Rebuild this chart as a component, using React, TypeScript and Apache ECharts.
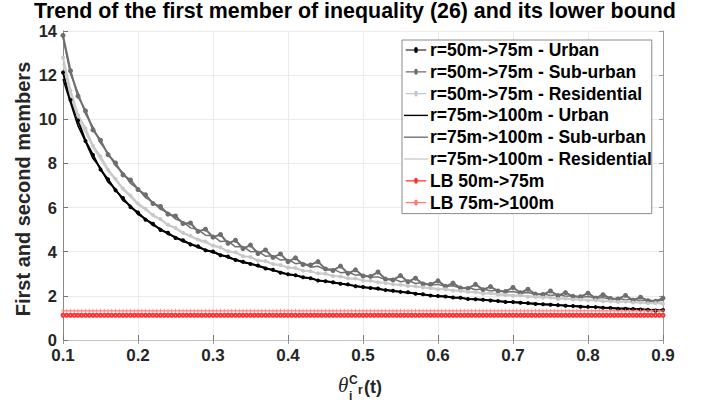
import React, { useEffect, useRef } from "react";
import * as echarts from "echarts";

const FONT = '"Liberation Sans", Arial, Helvetica, sans-serif';

// Normalised threshold θ sampled from 0.1 to 0.9
const thetaGrid: number[] = Array.from({ length: 81 }, (_, i) => +(0.1 + i * 0.01).toFixed(2));
const lbGrid: number[] = Array.from({ length: 161 }, (_, i) => +(0.1 + i * 0.005).toFixed(3));

const seriesNames = [
  "r=50m->75m - Urban",
  "r=50m->75m - Sub-urban",
  "r=50m->75m - Residential",
  "r=75m->100m - Urban",
  "r=75m->100m - Sub-urban",
  "r=75m->100m - Residential",
  "LB 50m->75m",
  "LB 75m->100m",
];

const urban50to75 = [
  12.12, 10.88, 9.95, 9.02, 8.38, 7.72, 7.28, 6.78, 6.43, 6.02,
  5.78, 5.45, 5.27, 4.98, 4.86, 4.62, 4.52, 4.33, 4.25, 4.06,
  4.01, 3.84, 3.78, 3.62, 3.55, 3.44, 3.38, 3.24, 3.18, 3.05,
  2.98, 2.93, 2.84, 2.80, 2.70, 2.66, 2.62, 2.55, 2.52, 2.44,
  2.40, 2.36, 2.33, 2.26, 2.23, 2.18, 2.16, 2.10, 2.07, 2.01,
  1.99, 1.97, 1.93, 1.91, 1.86, 1.85, 1.82, 1.79, 1.77, 1.72,
  1.72, 1.69, 1.67, 1.63, 1.62, 1.60, 1.58, 1.55, 1.54, 1.51,
  1.50, 1.49, 1.46, 1.45, 1.42, 1.42, 1.40, 1.38, 1.37, 1.33,
  1.36,
];

const suburban50to75 = [
  13.80, 12.20, 11.05, 10.38, 9.52, 9.05, 8.40, 8.02, 7.48, 7.25,
  6.82, 6.58, 6.18, 6.05, 5.70, 5.62, 5.28, 5.30, 4.92, 5.02,
  4.66, 4.78, 4.38, 4.52, 4.14, 4.30, 3.92, 4.08, 3.74, 3.90,
  3.55, 3.72, 3.42, 3.40, 3.55, 3.22, 3.15, 3.35, 3.02, 3.18,
  2.90, 2.88, 3.08, 2.76, 2.72, 2.92, 2.64, 2.80, 2.54, 2.52,
  2.68, 2.43, 2.58, 2.36, 2.34, 2.52, 2.28, 2.42, 2.22, 2.20,
  2.38, 2.14, 2.30, 2.08, 2.06, 2.22, 2.01, 2.15, 1.98, 1.96,
  2.12, 1.90, 2.05, 1.88, 1.86, 2.02, 1.80, 1.94, 1.78, 1.76,
  1.90,
];

const residential50to75 = [
  12.80, 11.30, 10.20, 9.58, 8.80, 8.32, 7.72, 7.30, 6.86, 6.55,
  6.18, 5.95, 5.66, 5.48, 5.22, 5.08, 4.86, 4.72, 4.55, 4.46,
  4.28, 4.20, 4.02, 3.98, 3.80, 3.76, 3.60, 3.58, 3.44, 3.40,
  3.28, 3.26, 3.14, 3.12, 3.02, 3.00, 2.90, 2.88, 2.80, 2.78,
  2.70, 2.68, 2.62, 2.58, 2.52, 2.50, 2.45, 2.44, 2.38, 2.35,
  2.30, 2.30, 2.24, 2.22, 2.18, 2.17, 2.10, 2.12, 2.05, 2.04,
  2.00, 2.02, 1.96, 1.95, 1.92, 1.92, 1.86, 1.88, 1.83, 1.82,
  1.80, 1.80, 1.76, 1.76, 1.72, 1.74, 1.70, 1.70, 1.66, 1.68,
  1.64,
];

const urban75to100 = [
  11.82, 10.75, 9.70, 8.98, 8.22, 7.80, 7.15, 6.85, 6.32, 6.10,
  5.68, 5.50, 5.18, 5.05, 4.78, 4.68, 4.45, 4.38, 4.18, 4.10,
  3.95, 3.88, 3.72, 3.66, 3.50, 3.47, 3.33, 3.28, 3.14, 3.09,
  2.96, 2.95, 2.82, 2.81, 2.69, 2.68, 2.58, 2.57, 2.48, 2.46,
  2.38, 2.37, 2.29, 2.28, 2.20, 2.20, 2.12, 2.12, 2.05, 2.04,
  1.97, 1.98, 1.91, 1.92, 1.85, 1.86, 1.80, 1.81, 1.75, 1.75,
  1.70, 1.71, 1.65, 1.66, 1.61, 1.62, 1.57, 1.58, 1.53, 1.54,
  1.49, 1.50, 1.46, 1.47, 1.43, 1.44, 1.40, 1.41, 1.37, 1.38,
  1.35,
];

const suburban75to100 = [
  13.70, 12.05, 11.20, 10.25, 9.65, 8.92, 8.48, 7.90, 7.58, 7.10,
  6.85, 6.45, 6.25, 5.92, 5.78, 5.48, 5.35, 5.08, 5.00, 4.75,
  4.72, 4.46, 4.48, 4.22, 4.24, 4.00, 4.02, 3.80, 3.82, 3.62,
  3.65, 3.46, 3.50, 3.30, 3.34, 3.18, 3.22, 3.05, 3.08, 2.94,
  2.96, 2.84, 2.86, 2.74, 2.78, 2.64, 2.70, 2.56, 2.60, 2.48,
  2.52, 2.42, 2.46, 2.36, 2.38, 2.28, 2.32, 2.22, 2.26, 2.17,
  2.20, 2.12, 2.15, 2.06, 2.10, 2.02, 2.06, 1.98, 2.00, 1.93,
  1.97, 1.89, 1.92, 1.85, 1.89, 1.82, 1.86, 1.78, 1.82, 1.76,
  1.80,
];

const residential75to100 = [
  12.50, 11.05, 10.05, 9.40, 8.72, 8.18, 7.65, 7.25, 6.80, 6.48,
  6.12, 5.90, 5.62, 5.45, 5.18, 5.05, 4.82, 4.70, 4.52, 4.42,
  4.25, 4.18, 4.00, 3.95, 3.78, 3.75, 3.58, 3.56, 3.42, 3.40,
  3.26, 3.25, 3.12, 3.12, 3.00, 3.00, 2.89, 2.88, 2.79, 2.78,
  2.69, 2.68, 2.61, 2.60, 2.52, 2.52, 2.45, 2.45, 2.38, 2.38,
  2.31, 2.31, 2.25, 2.25, 2.19, 2.19, 2.13, 2.14, 2.08, 2.08,
  2.03, 2.04, 1.98, 1.99, 1.94, 1.94, 1.90, 1.90, 1.86, 1.86,
  1.82, 1.83, 1.79, 1.79, 1.75, 1.76, 1.72, 1.73, 1.69, 1.70,
  1.66,
];

// Lower bounds (constant over θ)
const lowerBound50to75 = 1.12;
const lowerBound75to100 = 1.32;

const yTicks = [0, 14, 2];

const PLUS = "path://M4,0h2v4h4v2h-4v4h-2v-4h-4v-2h4z";
const LINE_ICON = "path://M0,0H24V1.4H0Z";
const DOT_LINE_ICON = "path://M0,2.3H24V3.7H0ZM10,1.5A1.5,1.5 0 1 1 14,1.5V4.5A1.5,1.5 0 1 1 10,4.5Z";

function curve(name: string, values: number[], color: string, width: number, symbolSize: number) {
  return {
    name,
    type: "line",
    data: thetaGrid.map((x, i) => [x, values[i]]),
    symbol: symbolSize > 0 ? "circle" : "none",
    symbolSize,
    showSymbol: symbolSize > 0,
    lineStyle: { color, width },
    itemStyle: { color },
    emphasis: { disabled: true },
  };
}

export default function App() {
  const ref = useRef<HTMLDivElement>(null);

  useEffect(() => {
    if (!ref.current) return;
    const chart = echarts.init(ref.current, undefined, { renderer: "svg" });

    const axisBase = {
      type: "value",
      axisLabel: { show: false },
      splitLine: { show: false },
      axisTick: { show: true, inside: true, length: 4, lineStyle: { color: "#9a9a9a" } },
    };

    chart.setOption({
      animation: false,
      backgroundColor: "#ffffff",
      textStyle: { fontFamily: FONT },
      title: {
        text: "Trend of the first member of inequality (26) and its lower bound",
        left: "center",
        top: 2,
        padding: 0,
        textStyle: { fontFamily: FONT, fontSize: 21.4, lineHeight: 17, fontWeight: "bold", color: "#000" },
      },
      grid: { left: 63, right: 47, top: 31, bottom: 73, containLabel: false },
      legend: {
        orient: "vertical",
        left: 402,
        top: 40,
        data: [
          { name: seriesNames[0], icon: DOT_LINE_ICON },
          { name: seriesNames[1], icon: DOT_LINE_ICON },
          { name: seriesNames[2], icon: DOT_LINE_ICON },
          { name: seriesNames[3], icon: LINE_ICON },
          { name: seriesNames[4], icon: LINE_ICON },
          { name: seriesNames[5], icon: LINE_ICON },
          { name: seriesNames[6], icon: DOT_LINE_ICON },
          { name: seriesNames[7], icon: DOT_LINE_ICON },
        ],
        backgroundColor: "#ffffff",
        borderColor: "#8a8a8a",
        borderWidth: 1,
        padding: [1, 0, 2, 2],
        itemWidth: 24,
        itemHeight: 6,
        itemGap: 3.8,
        textStyle: { fontFamily: FONT, fontSize: 17.5, fontWeight: "bold", color: "#000", padding: [0, 0, 0, -3] },
      },
      xAxis: [
        {
          type: "value",
          min: 0.1,
          max: 0.9,
          interval: 0.1,
          axisLine: { show: false },
          axisTick: { show: true, inside: true, length: 5, lineStyle: { color: "#777" } },
          splitLine: { show: true, lineStyle: { color: "#ebebeb", width: 1 } },
          axisLabel: {
            formatter: (v: number) => v.toFixed(1),
            fontFamily: FONT,
            fontSize: 17,
            lineHeight: 13,
            fontWeight: "bold",
            color: "#262626",
            margin: 9,
          },
        },
        {
          ...axisBase,
          position: "top",
          min: 0.1,
          max: 0.9,
          interval: 0.1,
          axisLine: { show: true, lineStyle: { color: "#c4c4c4", width: 1 } },
        },
      ],
      yAxis: [
        {
          type: "value",
          min: yTicks[0],
          max: yTicks[1],
          interval: yTicks[2],
          axisLine: { show: true, lineStyle: { color: "#8a8a8a", width: 1 } },
          axisTick: { show: true, inside: true, length: 5, lineStyle: { color: "#777" } },
          splitLine: { show: true, lineStyle: { color: "#ebebeb", width: 1 } },
          axisLabel: {
            fontFamily: FONT,
            fontSize: 16.5,
            lineHeight: 13,
            fontWeight: "bold",
            color: "#262626",
            margin: 6,
          },
        },
        {
          ...axisBase,
          position: "right",
          min: yTicks[0],
          max: yTicks[1],
          interval: yTicks[2],
          axisLine: { show: true, lineStyle: { color: "#9a9a9a", width: 1 } },
        },
      ],
      graphic: [
        {
          type: "text",
          x: 23,
          y: 189,
          rotation: Math.PI / 2,
          style: {
            text: "First and second members",
            font: `bold 20px ${FONT}`,
            fill: "#262626",
            textAlign: "center",
            textVerticalAlign: "middle",
          },
        },
        {
          type: "group",
          left: 338,
          top: 374,
          children: [
            { type: "text", x: 0, y: 2, style: { text: "θ", font: 'italic 21px "Liberation Serif", serif', fill: "#262626" } },
            { type: "text", x: 11, y: 2, style: { text: "C", font: `bold 12px ${FONT}`, fill: "#262626" } },
            { type: "text", x: 11, y: 18, style: { text: "i", font: `bold 12px ${FONT}`, fill: "#262626" } },
            { type: "text", x: 20, y: 12, style: { text: "r", font: `bold 12px ${FONT}`, fill: "#262626" } },
            { type: "text", x: 26, y: 6, style: { text: "(t)", font: `bold 18px ${FONT}`, fill: "#262626" } },
          ],
        },
      ],
      series: [
        curve(seriesNames[0], urban50to75, "#000000", 2, 4),
        curve(seriesNames[1], suburban50to75, "#6e6e6e", 2, 5),
        curve(seriesNames[2], residential50to75, "#c8c8c8", 2, 4),
        curve(seriesNames[3], urban75to100, "#000000", 1.5, 0),
        curve(seriesNames[4], suburban75to100, "#707070", 1.5, 0),
        curve(seriesNames[5], residential75to100, "#cdcdcd", 1.5, 0),
        {
          name: seriesNames[6],
          type: "line",
          data: lbGrid.map((x) => [x, lowerBound50to75]),
          symbol: "emptyCircle",
          symbolSize: 3,
          lineStyle: { color: "#ff3030", width: 1 },
          itemStyle: { color: "#ff3030", borderWidth: 0.7 },
          emphasis: { disabled: true },
        },
        {
          name: seriesNames[7],
          type: "line",
          data: lbGrid.map((x) => [x, lowerBound75to100]),
          symbol: PLUS,
          symbolSize: 4,
          lineStyle: { color: "#ff9a9a", width: 1 },
          itemStyle: { color: "#ff7a7a" },
          emphasis: { disabled: true },
        },
      ],
    });

    return () => chart.dispose();
  }, []);

  return <div ref={ref} style={{ width: 710, height: 413, position: "absolute", left: 0, top: 0 }} />;
}
